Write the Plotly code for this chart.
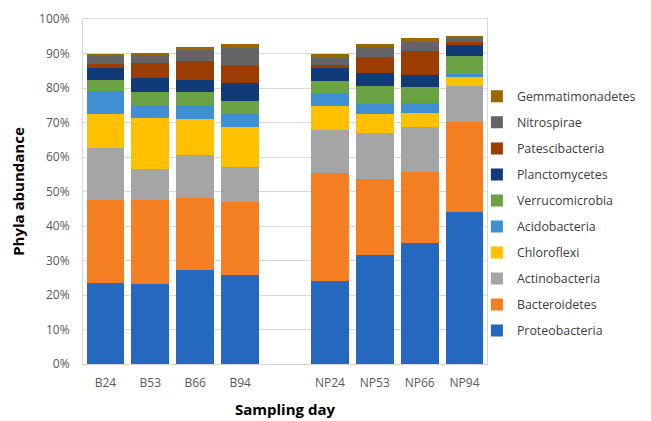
import plotly.graph_objects as go

samples = ["B24", "B53", "B66", "B94", " ", "NP24", "NP53", "NP66", "NP94"]

phyla = ["Proteobacteria", "Bacteroidetes", "Actinobacteria", "Chloroflexi",
         "Acidobacteria", "Verrucomicrobia", "Planctomycetes", "Patescibacteria",
         "Nitrospirae", "Gemmatimonadetes"]

colors = ["#2468C0", "#F47E22", "#A5A5A5", "#FFC000", "#418FD3",
          "#6BA243", "#113B78", "#9B3C02", "#646464", "#9A6700"]

# percent abundance per sample (blank slot = gap)
proteobacteria   = [23.4, 23.2, 27.3, 25.7, None, 24.2, 31.7, 35.0, 44.1]
bacteroidetes    = [24.1, 24.3, 20.8, 21.3, None, 31.1, 21.9, 20.7, 26.1]
actinobacteria   = [15.0,  9.0, 12.4, 10.2, None, 12.6, 13.4, 12.9, 10.4]
chloroflexi      = [10.0, 14.9, 10.6, 11.4, None,  6.9,  5.5,  4.2,  2.5]
acidobacteria    = [ 6.6,  3.4,  3.9,  3.9, None,  3.7,  3.0,  2.8,  0.9]
verrucomicrobia  = [ 3.2,  3.9,  3.9,  3.8, None,  3.4,  5.2,  4.7,  5.3]
planctomycetes   = [ 3.6,  4.1,  3.4,  5.1, None,  3.8,  3.7,  3.5,  3.2]
patescibacteria  = [ 1.2,  4.5,  5.4,  5.3, None,  1.0,  4.5,  6.8,  0.9]
nitrospirae      = [ 2.2,  2.4,  3.6,  4.9, None,  2.2,  2.9,  2.6,  1.2]
gemmatimonadetes = [ 0.6,  0.4,  0.5,  1.1, None,  0.9,  1.0,  1.4,  0.6]

series = [proteobacteria, bacteroidetes, actinobacteria, chloroflexi, acidobacteria,
          verrucomicrobia, planctomycetes, patescibacteria, nitrospirae, gemmatimonadetes]

yticks = [0, 10, 20, 30, 40, 50, 60, 70, 80, 90, 100]
ylabels = [f"{v}%" for v in yticks]

font = "Open Sans, Liberation Sans, sans-serif"

fig = go.Figure()
for i, (name, vals, col) in enumerate(zip(phyla, series, colors)):
    fig.add_trace(go.Bar(x=samples, y=vals, name=name, marker_color=col,
                         marker_line_width=0, legendgroup=name,
                         legendrank=1000 - i))

# page body has an 8px default margin, so the figure is 8px smaller than the window
fig.update_layout(
    width=643, height=413,
    barmode="stack", bargap=0.16,
    paper_bgcolor="white", plot_bgcolor="white",
    margin=dict(l=75, r=164, t=11, b=57, autoexpand=False),
    font=dict(family=font, color="#595959", size=12),
    legend=dict(x=0.975, y=0.818, xanchor="left", yanchor="top",
                traceorder="grouped", tracegroupgap=6.9, bgcolor="rgba(0,0,0,0)",
                font=dict(size=12.4, color="#404040"), itemwidth=30),
    showlegend=True,
)
fig.update_xaxes(type="category", categoryorder="array", categoryarray=samples,
                 showline=True, linecolor="#D9D9D9", linewidth=1, mirror=True,
                 showgrid=False, ticks="", ticklabelstandoff=8,
                 tickfont=dict(size=12, color="#595959"),
                 title=dict(text="<b>Sampling day</b>", font=dict(size=15, color="black"), standoff=14))
fig.update_yaxes(range=[0, 100], tickvals=yticks, ticktext=ylabels,
                 showline=True, linecolor="#D9D9D9", linewidth=1, mirror=True,
                 showgrid=True, gridcolor="#D9D9D9", gridwidth=1, zeroline=False,
                 ticks="", ticklabelstandoff=10, tickfont=dict(size=12, color="#595959"),
                 title=dict(text="<b>Phyla abundance</b>", font=dict(size=15, color="black"), standoff=18))

fig.write_html("out.html")
